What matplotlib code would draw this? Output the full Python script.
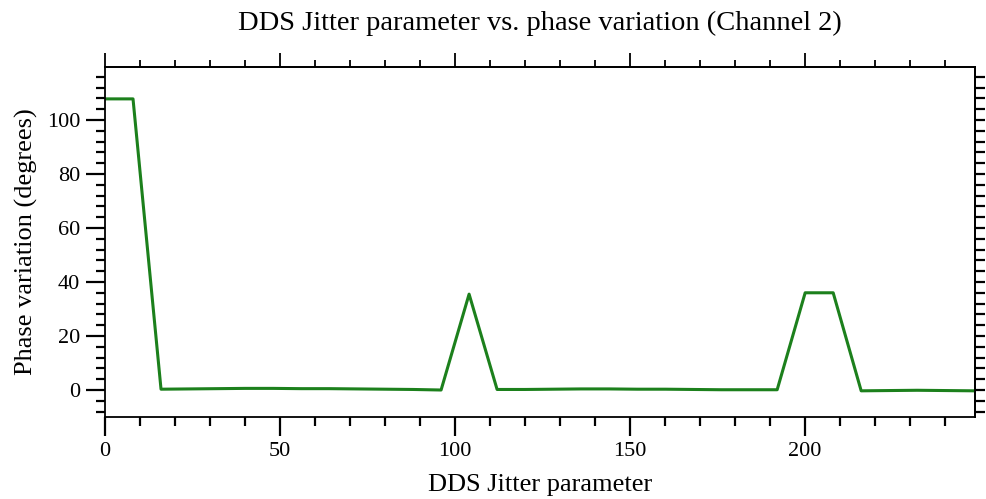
import numpy as np
import matplotlib.pyplot as plt
from matplotlib.ticker import MultipleLocator

# DDS jitter parameter (sampled every 8) and measured phase variation
jitter = [0, 8, 16, 24, 32, 40, 48, 56, 64, 72, 80, 88, 96, 104, 112, 120,
          128, 136, 144, 152, 160, 168, 176, 184, 192, 200, 208, 216, 224,
          232, 240, 248]
phase = [107.8, 107.8, 0.3, 0.4, 0.5, 0.6, 0.6, 0.5, 0.5, 0.4, 0.3, 0.2,
         0.0, 35.5, 0.2, 0.2, 0.3, 0.4, 0.4, 0.3, 0.3, 0.2, 0.1, 0.1, 0.1,
         36.0, 36.0, -0.3, -0.2, -0.1, -0.2, -0.3]

title = "DDS Jitter parameter vs. phase variation (Channel 2)"
xlabel = "DDS Jitter parameter"
ylabel = "Phase variation (degrees)"

plt.rcParams['font.family'] = ['Liberation Serif', 'DejaVu Serif']

fig = plt.figure(figsize=(9.86, 4.99), dpi=100)
ax = fig.add_axes([0.1065, 0.1643, 0.8823, 0.7014])

ax.plot(jitter, phase, color='#1c801c', lw=2.2)
ax.set_xlim(0, 248.5)
ax.set_ylim(-10, 119.6)

for s in ax.spines.values():
    s.set_linewidth(1.3)

ax.xaxis.set_major_locator(MultipleLocator(50))
ax.xaxis.set_minor_locator(MultipleLocator(10))
ax.yaxis.set_major_locator(MultipleLocator(20))
ax.yaxis.set_minor_locator(MultipleLocator(4))
ax.tick_params(which='major', direction='out', length=14, width=1.6,
               labelsize=16, pad=4, left=True, bottom=True,
               right=False, top=False)
ax.tick_params(which='minor', direction='out', length=6.5, width=1.6,
               left=True, bottom=True, right=False, top=False)

# top axis: same ticks, no labels
top = ax.secondary_xaxis('top')
top.xaxis.set_major_locator(MultipleLocator(50))
top.xaxis.set_minor_locator(MultipleLocator(10))
top.tick_params(which='major', direction='out', length=10, width=1.3,
                labeltop=False)
top.tick_params(which='minor', direction='out', length=5, width=1.3)
top.spines['top'].set_linewidth(1.3)

# right axis: evenly spaced short ticks
right = ax.secondary_yaxis('right')
right.yaxis.set_major_locator(MultipleLocator(4))
right.tick_params(which='major', direction='out', length=7, width=1.6,
                  labelright=False)
right.spines['right'].set_linewidth(1.3)

ax.set_title(title, fontsize=20.5, pad=27)
ax.set_xlabel(xlabel, fontsize=19, labelpad=9)
ax.set_ylabel(ylabel, fontsize=19, labelpad=6)

fig.savefig('out.png', dpi=100)
